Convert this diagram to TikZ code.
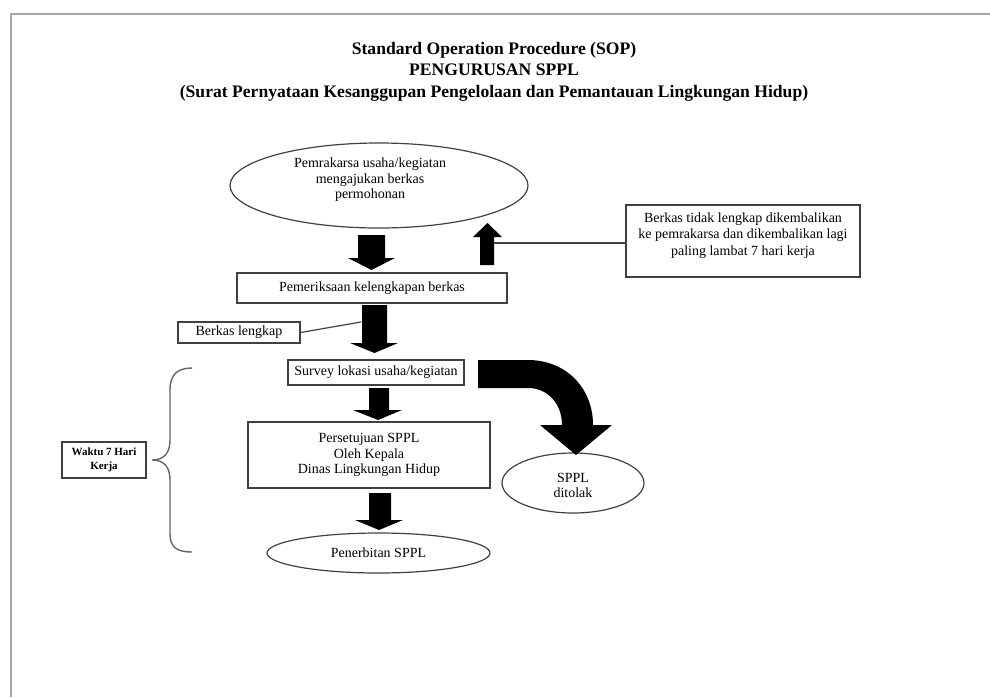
\documentclass[tikz,border=0pt]{standalone}
\usepackage{fontspec}
\setmainfont{Liberation Serif}
\usetikzlibrary{shapes.geometric}
\begin{document}
\begin{tikzpicture}[x=1pt,y=-1pt,
  txt/.style={inner sep=0pt, align=center, font=\fontsize{14}{15.5}\selectfont},
  box/.style={draw=black!75, line width=1.2pt, rectangle, inner sep=0pt, align=center, font=\fontsize{14}{15.5}\selectfont},
  oval/.style={draw=black!75, line width=1.2pt, ellipse, inner sep=0pt, align=center, font=\fontsize{14}{15.5}\selectfont},
  blk/.style={fill=black, draw=none},
  link/.style={draw=black!75, line width=1.2pt},
  frame/.style={draw=black!35, line width=2pt},
  brace/.style={draw=black!60, line width=1.4pt}]
\useasboundingbox (0,0) rectangle (990,697);
% page frame
\coordinate (fA) at (11,697);
\coordinate (fB) at (11,14);
\coordinate (fC) at (990,14);
\draw[frame] (fA) -- (fB) -- (fC);

% title
\node[inner sep=0pt, align=center, font=\bfseries\fontsize{17.6}{21.5}\selectfont] (title) at (494,71.5)
  {Standard Operation Procedure (SOP)\\PENGURUSAN SPPL\\(Surat Pernyataan Kesanggupan Pengelolaan dan Pemantauan Lingkungan Hidup)};

% nodes
\node[oval, minimum width=298pt, minimum height=85pt] (start) at (379,185.5) {};
\node[txt] (startt) at (370,180) {Pemrakarsa usaha/kegiatan\\mengajukan berkas\\permohonan};

\node[box, minimum width=270pt, minimum height=30pt] (check) at (372,288) {Pemeriksaan kelengkapan berkas};

\node[box, minimum width=234pt, minimum height=72pt] (back) at (743,241) {};
\node[txt, font=\fontsize{14}{16.5}\selectfont] (backt) at (743,235.5) {Berkas tidak lengkap dikembalikan\\ke pemrakarsa dan dikembalikan lagi\\paling lambat 7 hari kerja};

\node[box, minimum width=122pt, minimum height=21pt] (ok) at (239,332.5) {Berkas lengkap};

\node[box, minimum width=176pt, minimum height=25pt] (survey) at (376,372.5) {Survey lokasi usaha/kegiatan};

\node[box, minimum width=242pt, minimum height=66pt] (approve) at (369,455) {Persetujuan SPPL\\Oleh Kepala\\Dinas Lingkungan Hidup};

\node[oval, minimum width=223pt, minimum height=40pt] (issue) at (378.5,553) {Penerbitan SPPL};

\node[oval, minimum width=142pt, minimum height=60pt] (reject) at (573,483) {};
\node[txt] (rejectt) at (573,485.5) {SPPL\\ditolak};

\node[box, minimum width=84pt, minimum height=36pt, font=\bfseries\fontsize{11}{14}\selectfont] (time) at (104,460) {Waktu 7 Hari\\Kerja};

% block arrows (down)
\fill[blk] (358,235) -- (385,235) -- (385,258) -- (395,258) -- (371.5,270) -- (348,258) -- (358,258) -- cycle;
\fill[blk] (362,305) -- (387,305) -- (387,343) -- (398,343) -- (374.5,353) -- (350,343) -- (362,343) -- cycle;
\fill[blk] (369,388) -- (389,388) -- (389,410) -- (402,410) -- (378,420) -- (353,410) -- (369,410) -- cycle;
\fill[blk] (369,493) -- (391,493) -- (391,520) -- (403,520) -- (379,530) -- (355,520) -- (369,520) -- cycle;
% block arrow (up)
\fill[blk] (480,265) -- (494,265) -- (494,237) -- (502,237) -- (487.5,223) -- (473,237) -- (480,237) -- cycle;

% curved block arrow to rejection
\fill[blk] (478,360) -- (528,360) .. controls (566,360) and (593,388) .. (593,425)
  -- (612,425) -- (576,455) -- (540,425) -- (562,425)
  .. controls (562,404) and (548,388) .. (528,388) -- (478,388) -- cycle;

% connectors
\coordinate (upR) at (494,243);
\draw[link] (upR) -- (upR -| back.west);
\coordinate (shaft2) at (361,322);
\draw[link] (ok.east) -- (shaft2);

% brace
\draw[brace] (192,368) .. controls (178,368) and (170,374) .. (170,390) -- (170,440)
  .. controls (170,453) and (164,460) .. (152,460)
  .. controls (164,460) and (170,467) .. (170,480) -- (170,534)
  .. controls (170,548) and (178,552) .. (192,552);
\end{tikzpicture}
\end{document}
